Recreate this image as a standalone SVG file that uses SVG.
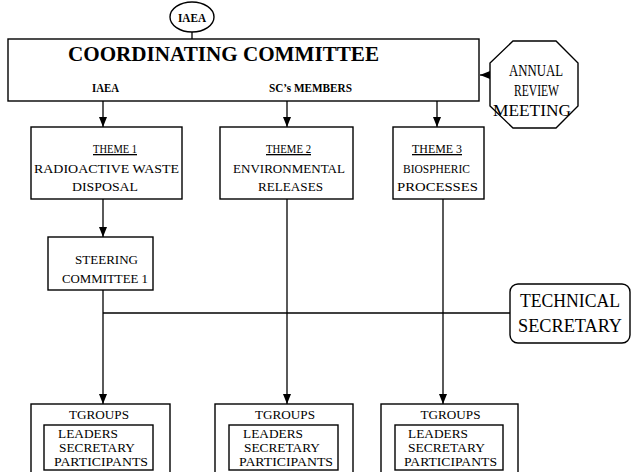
<svg xmlns="http://www.w3.org/2000/svg" width="632" height="472" viewBox="0 0 632 472">
<style>
.box{fill:#fff;stroke:#000;stroke-width:1.4}
.ln{fill:none;stroke:#000;stroke-width:1.3}
.t{font-family:"Liberation Serif","Times New Roman",serif;font-size:13px;fill:#000;text-anchor:middle}
.b{font-weight:bold}
.s{text-anchor:start}
.f12{font-size:11.5px}
.f17{font-size:17px}
.f20{font-size:20px}
.f21{font-size:19px}
</style>
<defs>
<marker id="ah" markerUnits="userSpaceOnUse" markerWidth="10" markerHeight="8" refX="10" refY="4" orient="auto">
<path d="M0,0 L10,4 L0,8 z" fill="#000"/>
</marker>
</defs>
<rect width="632" height="472" fill="#fff"/>
<g id="connectors">
<line class="ln" x1="192" y1="32" x2="192" y2="39"/>
<line class="ln" x1="490" y1="75" x2="480" y2="75" marker-end="url(#ah)"/>
<line class="ln" x1="103" y1="101" x2="103" y2="127" marker-end="url(#ah)"/>
<line class="ln" x1="287" y1="101" x2="287" y2="127" marker-end="url(#ah)"/>
<line class="ln" x1="437" y1="101" x2="437" y2="127" marker-end="url(#ah)"/>
<line class="ln" x1="103" y1="199" x2="103" y2="237" marker-end="url(#ah)"/>
<line class="ln" x1="103" y1="290" x2="103" y2="404" marker-end="url(#ah)"/>
<line class="ln" x1="287" y1="199" x2="287" y2="404" marker-end="url(#ah)"/>
<line class="ln" x1="443" y1="199" x2="443" y2="404" marker-end="url(#ah)"/>
<line class="ln" x1="103" y1="313" x2="510" y2="313"/>
</g>
<g id="iaea">
<ellipse class="box" cx="192" cy="17" rx="22" ry="15"/>
<text class="t b" x="192" y="22" textLength="28" lengthAdjust="spacingAndGlyphs">IAEA</text>
</g>
<g id="coordinating">
<rect class="box" x="8" y="39" width="471" height="62"/>
<text class="t b f20" x="223.5" y="61" textLength="311" lengthAdjust="spacingAndGlyphs">COORDINATING COMMITTEE</text>
<text class="t b" x="105.5" y="92" textLength="27" lengthAdjust="spacingAndGlyphs">IAEA</text>
<text class="t b" x="310.5" y="92" textLength="83" lengthAdjust="spacingAndGlyphs">SC’s MEMBERS</text>
</g>
<g id="annual">
<polygon class="box" points="513,41 556,41 578,63 578,106 556,128 513,128 490,106 490,63"/>
<text class="t f17" x="536" y="76" textLength="54" lengthAdjust="spacingAndGlyphs">ANNUAL</text>
<text class="t f17" x="536.5" y="96" textLength="45" lengthAdjust="spacingAndGlyphs">REVIEW</text>
<text class="t f17" x="532" y="116" textLength="78" lengthAdjust="spacingAndGlyphs">MEETING</text>
</g>
<g id="theme1">
<rect class="box" x="31" y="127" width="151" height="72"/>
<text class="t" x="115" y="153" text-decoration="underline" textLength="44" lengthAdjust="spacingAndGlyphs">THEME 1</text>
<text class="t" x="106.5" y="173" textLength="145" lengthAdjust="spacingAndGlyphs">RADIOACTIVE WASTE</text>
<text class="t" x="105" y="191" textLength="66" lengthAdjust="spacingAndGlyphs">DISPOSAL</text>
</g>
<g id="theme2">
<rect class="box" x="220" y="127" width="133" height="72"/>
<text class="t" x="288.5" y="153" text-decoration="underline" textLength="45" lengthAdjust="spacingAndGlyphs">THEME 2</text>
<text class="t" x="289" y="173" textLength="112" lengthAdjust="spacingAndGlyphs">ENVIRONMENTAL</text>
<text class="t" x="290.5" y="191" textLength="65" lengthAdjust="spacingAndGlyphs">RELEASES</text>
</g>
<g id="theme3">
<rect class="box" x="393" y="127" width="91" height="72"/>
<text class="t" x="437" y="153" text-decoration="underline" textLength="50" lengthAdjust="spacingAndGlyphs">THEME 3</text>
<text class="t" x="436.5" y="173" textLength="67" lengthAdjust="spacingAndGlyphs">BIOSPHERIC</text>
<text class="t" x="437.5" y="191" textLength="81" lengthAdjust="spacingAndGlyphs">PROCESSES</text>
</g>
<g id="steering">
<rect class="box" x="48" y="237" width="105" height="53"/>
<text class="t" x="106.5" y="264" textLength="63" lengthAdjust="spacingAndGlyphs">STEERING</text>
<text class="t" x="105" y="283" textLength="86" lengthAdjust="spacingAndGlyphs">COMMITTEE 1</text>
</g>
<g id="technical">
<rect class="box" x="510" y="284" width="120" height="59" rx="8" ry="8"/>
<text class="t f21" x="570" y="307" textLength="100" lengthAdjust="spacingAndGlyphs">TECHNICAL</text>
<text class="t f21" x="570" y="332" textLength="104" lengthAdjust="spacingAndGlyphs">SECRETARY</text>
</g>
<g id="tgroups1">
<rect class="box" x="31" y="404" width="139" height="80"/>
<text class="t" x="99" y="419" textLength="60" lengthAdjust="spacingAndGlyphs">TGROUPS</text>
<rect class="box" x="44" y="425" width="109" height="45"/>
<text class="t s f12" x="58" y="438" textLength="60" lengthAdjust="spacingAndGlyphs">LEADERS</text>
<text class="t s f12" x="59" y="452" textLength="76" lengthAdjust="spacingAndGlyphs">SECRETARY</text>
<text class="t s f12" x="54" y="466" textLength="94" lengthAdjust="spacingAndGlyphs">PARTICIPANTS</text>
</g>
<g id="tgroups2">
<rect class="box" x="215" y="404" width="138" height="80"/>
<text class="t" x="285" y="419" textLength="60" lengthAdjust="spacingAndGlyphs">TGROUPS</text>
<rect class="box" x="229" y="425" width="109" height="45"/>
<text class="t s f12" x="243" y="438" textLength="60" lengthAdjust="spacingAndGlyphs">LEADERS</text>
<text class="t s f12" x="244" y="452" textLength="76" lengthAdjust="spacingAndGlyphs">SECRETARY</text>
<text class="t s f12" x="239" y="466" textLength="94" lengthAdjust="spacingAndGlyphs">PARTICIPANTS</text>
</g>
<g id="tgroups3">
<rect class="box" x="381" y="404" width="137" height="80"/>
<text class="t" x="450.5" y="419" textLength="60" lengthAdjust="spacingAndGlyphs">TGROUPS</text>
<rect class="box" x="395" y="425" width="108" height="45"/>
<text class="t s f12" x="408" y="438" textLength="60" lengthAdjust="spacingAndGlyphs">LEADERS</text>
<text class="t s f12" x="408" y="452" textLength="77" lengthAdjust="spacingAndGlyphs">SECRETARY</text>
<text class="t s f12" x="404" y="466" textLength="93" lengthAdjust="spacingAndGlyphs">PARTICIPANTS</text>
</g>
</svg>
